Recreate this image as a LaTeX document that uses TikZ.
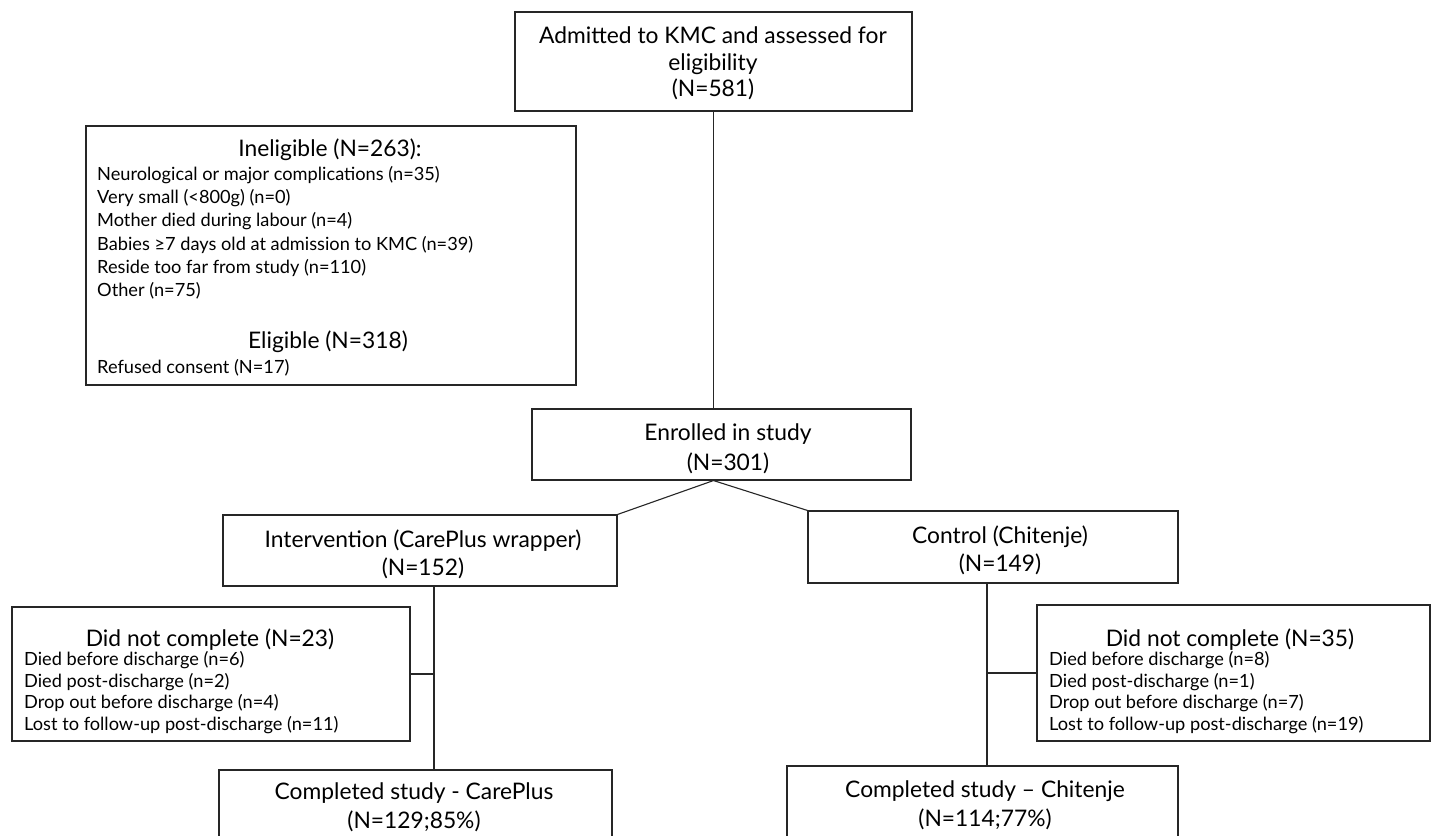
\documentclass[tikz,border=0pt]{standalone}
\usepackage{fontspec}
\setmainfont{Lato}
\begin{document}
\begin{tikzpicture}[x=1pt,y=-1pt,
  box/.style={draw=black!85, line width=1.1pt, rectangle, inner sep=0pt},
  conn/.style={draw=black!85, line width=1.1pt},
  big/.style={inner sep=0pt, yshift=-2pt, font=\fontsize{22.8}{27}\selectfont, text height=16pt, text depth=4.5pt},
  head/.style={inner sep=0pt, yshift=-2pt, font=\fontsize{22.8}{27}\selectfont, text height=16pt, text depth=4.5pt},
  item/.style={inner sep=0pt, yshift=-2pt, anchor=west, font=\fontsize{18.2}{22}\selectfont, text height=12.7pt, text depth=3.8pt}
]
\useasboundingbox (0,0) rectangle (1434,835);
\clip (0,0) rectangle (1434,835);
\fill[white] (0,0) rectangle (1434,835);

% boxes
\node[box, minimum width=397pt, minimum height=99pt] (top) at (713.5,61.5) {};
\node[box, minimum width=490pt, minimum height=259pt] (inel) at (331,255.5) {};
\node[box, minimum width=379pt, minimum height=71pt] (enr) at (721.5,444.5) {};
\node[box, minimum width=394pt, minimum height=71pt] (interv) at (420,550.5) {};
\node[box, minimum width=370pt, minimum height=72pt] (ctrl) at (993,547) {};
\node[box, minimum width=398pt, minimum height=134pt] (dncL) at (211,674) {};
\node[box, minimum width=393pt, minimum height=136pt] (dncR) at (1233.5,673) {};
\node[box, minimum width=393pt, minimum height=100pt] (compL) at (415.5,820) {};
\node[box, minimum width=391pt, minimum height=104pt] (compR) at (982.5,818) {};

% texts
\node[big] (t1) at (713,36) {Admitted to KMC and assessed for};
\node[big] (t2) at (713,63) {eligibility};
\node[big] (t3) at (713,89) {(N=581)};

\node[head] (ih) at (330,149) {Ineligible (N=263):};
\node[item] (i1) at (97,174) {Neurological or major complications (n=35)};
\node[item] (i2) at (97,197) {Very small (<800g) (n=0)};
\node[item] (i3) at (97,220) {Mother died during labour (n=4)};
\node[item] (i4) at (97,244) {Babies ≥7 days old at admission to KMC (n=39)};
\node[item] (i5) at (97,267) {Reside too far from study (n=110)};
\node[item] (i6) at (97,290) {Other (n=75)};
\node[head] (eh) at (328,341) {Eligible (N=318)};
\node[item] (e1) at (97,367) {Refused consent (N=17)};

\node[big] (n1) at (728,433) {Enrolled in study};
\node[big] (n2) at (728,463) {(N=301)};

\node[big] (v1) at (423,540) {Intervention (CarePlus wrapper)};
\node[big] (v2) at (423,568) {(N=152)};

\node[big] (c1) at (1000,536) {Control (Chitenje)};
\node[big] (c2) at (1000,564) {(N=149)};

\node[head] (lh) at (210,639) {Did not complete (N=23)};
\node[item] (l1) at (24,659) {Died before discharge (n=6)};
\node[item] (l2) at (24,681) {Died post-discharge (n=2)};
\node[item] (l3) at (24,702) {Drop out before discharge (n=4)};
\node[item] (l4) at (24,724) {Lost to follow-up post-discharge (n=11)};

\node[head] (rh) at (1230,639) {Did not complete (N=35)};
\node[item] (r1) at (1049,659) {Died before discharge (n=8)};
\node[item] (r2) at (1049,681) {Died post-discharge (n=1)};
\node[item] (r3) at (1049,702) {Drop out before discharge (n=7)};
\node[item] (r4) at (1049,724) {Lost to follow-up post-discharge (n=19)};

\node[big] (p1) at (414,792) {Completed study - CarePlus};
\node[big] (p2) at (414,821) {(N=129;85\%)};

\node[big] (q1) at (985,790) {Completed study – Chitenje};
\node[big] (q2) at (985,819) {(N=114;77\%)};

% connectors
\coordinate (iv) at (434,0);
\coordinate (cv) at (987,0);
\draw[conn] (top.south) -- (top.south |- enr.north);
\draw[conn] (enr.south -| top.south) -- (interv.north east);
\draw[conn] (enr.south -| top.south) -- (ctrl.north west);
\draw[conn] (interv.south -| iv) -- (compL.north -| iv);
\draw[conn] (dncL.east) -- (dncL.east -| iv);
\draw[conn] (ctrl.south -| cv) -- (compR.north -| cv);
\draw[conn] (dncR.west) -- (dncR.west -| cv);
\end{tikzpicture}
\end{document}
